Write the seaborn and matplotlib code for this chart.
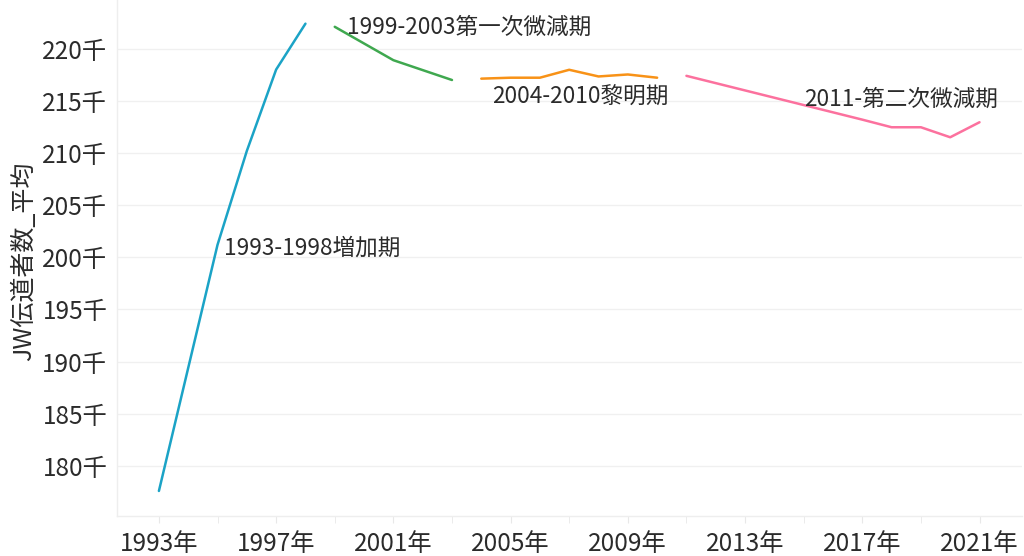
import numpy as np
import pandas as pd
import matplotlib
matplotlib.use("Agg")
import matplotlib.pyplot as plt
import matplotlib.ticker as mticker
import seaborn as sns

# JW publishers, yearly average, split into periods
years_1 = [1993, 1994, 1995, 1996, 1997, 1998]
vals_1 = [177600, 189400, 201200, 210200, 218000, 222400]
years_2 = [1999, 2000, 2001, 2002, 2003]
vals_2 = [222100, 220500, 218900, 217950, 217000]
years_3 = [2004, 2005, 2006, 2007, 2008, 2009, 2010]
vals_3 = [217130, 217220, 217220, 217980, 217340, 217530, 217220]
years_4 = [2011, 2012, 2013, 2014, 2015, 2016, 2017, 2018, 2019, 2020, 2021]
vals_4 = [217400, 216700, 216000, 215300, 214600, 213900, 213200, 212470, 212470, 211510, 212950]

periods = ["1993-1998増加期", "1999-2003第一次微減期", "2004-2010黎明期", "2011-第二次微減期"]
colors = ["#1ba3c6", "#3fa84f", "#f89217", "#fc719e"]

df = pd.concat([
    pd.DataFrame({"year": y, "value": v, "period": p})
    for y, v, p in zip([years_1, years_2, years_3, years_4],
                       [vals_1, vals_2, vals_3, vals_4], periods)
], ignore_index=True)

sns.set_style("white")
plt.rcParams["font.family"] = ["Noto Sans CJK JP", "DejaVu Sans"]
txt_color = "#2b2b2b"

fig = plt.figure(figsize=(10.24, 5.56), dpi=100)
ax = fig.add_axes([117 / 1024, 40 / 556, 905 / 1024, 516 / 556])

sns.lineplot(data=df, x="year", y="value", hue="period", palette=dict(zip(periods, colors)),
             linewidth=1.8, legend=False, ax=ax)

ax.set_xlim(1991.57, 2022.45)
ax.set_ylim(175200, 224670)

ax.yaxis.set_major_locator(mticker.MultipleLocator(5000))
ax.yaxis.set_major_formatter(mticker.FuncFormatter(lambda v, p: f"{v/1000:.0f}千"))
ax.xaxis.set_major_locator(mticker.FixedLocator(range(1993, 2022, 4)))
ax.xaxis.set_minor_locator(mticker.FixedLocator(range(1995, 2022, 4)))
ax.xaxis.set_major_formatter(mticker.FuncFormatter(lambda v, p: f"{int(v)}年"))

ax.grid(axis="y", color="#f0f0f0", linewidth=1)
ax.grid(axis="x", visible=False)
for s in ["top", "right"]:
    ax.spines[s].set_visible(False)
for s in ["left", "bottom"]:
    ax.spines[s].set_color("#eeeeee")
    ax.spines[s].set_linewidth(1)

ax.tick_params(axis="x", which="both", length=5, color="#e8e8e8", pad=6,
               labelsize=17.5, labelcolor=txt_color, bottom=True)
ax.tick_params(axis="y", length=0, pad=7, labelsize=17.5, labelcolor=txt_color, left=False)

ax.set_xlabel("")
ax.set_ylabel("JW伝道者数_平均", fontsize=18, color=txt_color)
ax.yaxis.set_label_coords(-0.088, 0.494)

# period labels, anchored on a point of each segment
anchors = [(years_1[2], vals_1[2], 6, -3),
           (years_2[0], vals_2[0], 12, -1),
           (years_3[0], vals_3[0], 11, -19),
           (years_4[0], vals_4[0], 118, -23)]
for (x, y, dx, dy), label in zip(anchors, periods):
    ax.annotate(label, xy=(x, y), xytext=(dx, dy), textcoords="offset pixels",
                ha="left", va="center", fontsize=16.3, color=txt_color)

fig.savefig("out.png", dpi=100)
